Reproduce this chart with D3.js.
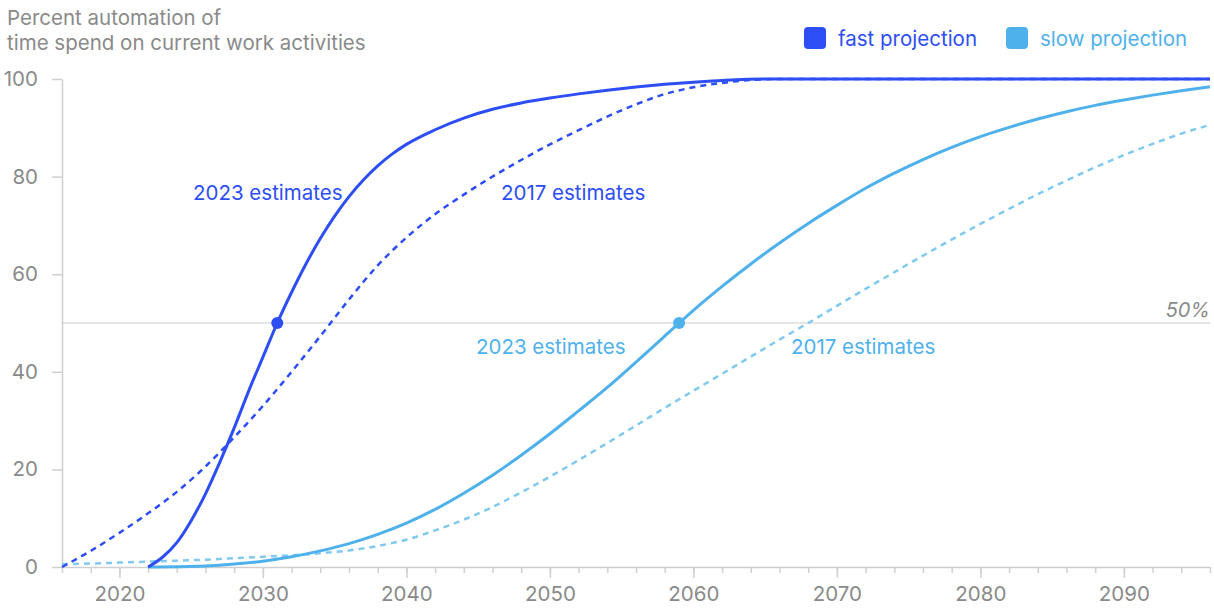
<!DOCTYPE html>
<html>
<head>
<meta charset="utf-8">
<script src="https://cdn.jsdelivr.net/npm/d3@7"></script>
<style>
  body { margin: 0; background: #fff; }
  svg text { font-family: Inter, "Noto Sans", sans-serif; }
</style>
</head>
<body>
<svg id="chart" width="1214" height="608"></svg>
<script>
// --- Data ---
const fast2023Years  = [2022, 2023, 2024, 2025, 2026, 2027, 2028, 2029, 2030, 2031, 2032, 2033, 2034, 2035, 2036, 2037, 2038, 2039, 2040, 2042, 2044, 2046, 2048, 2050, 2052, 2054, 2056, 2058, 2060, 2062, 2065, 2096];
const fast2023Values = [0, 2, 5, 9.5, 15, 21.5, 28.5, 36, 43, 50, 56.3, 62.1, 67.3, 71.9, 75.9, 79.3, 82.2, 84.6, 86.6, 89.6, 92, 93.8, 95.1, 96.1, 96.95, 97.7, 98.35, 98.9, 99.35, 99.7, 100, 100];

const fast2017Years  = [2016, 2018, 2020, 2022, 2024, 2026, 2028, 2030, 2032, 2034, 2036, 2038, 2040, 2042, 2044, 2046, 2048, 2050, 2052, 2054, 2056, 2058, 2060, 2062, 2064, 2066, 2096];
const fast2017Values = [0, 3.3, 7, 11, 15.4, 20.6, 26.6, 33, 40, 47.3, 54.8, 61.8, 67.5, 72.3, 76.3, 80, 83.4, 86.6, 89.5, 92.3, 94.8, 96.9, 98.3, 99.2, 99.8, 100, 100];

const slow2023Years  = [2022, 2024, 2026, 2028, 2030, 2032, 2034, 2036, 2038, 2040, 2042, 2044, 2046, 2048, 2050, 2052, 2054, 2056, 2058, 2060, 2062, 2064, 2066, 2068, 2070, 2072, 2074, 2076, 2078, 2080, 2082, 2084, 2086, 2088, 2090, 2092, 2094, 2096];
const slow2023Values = [0, 0.05, 0.2, 0.6, 1.2, 2.1, 3.3, 4.8, 6.7, 9, 11.8, 15.1, 18.8, 22.9, 27.3, 32, 36.8, 42, 47.3, 52.6, 57.5, 62.1, 66.4, 70.4, 74.1, 77.6, 80.7, 83.5, 86, 88.2, 90.1, 91.8, 93.3, 94.6, 95.7, 96.7, 97.6, 98.4];

const slow2017Years  = [2016, 2018, 2020, 2022, 2024, 2026, 2028, 2030, 2032, 2034, 2036, 2038, 2040, 2042, 2044, 2046, 2048, 2050, 2052, 2054, 2056, 2058, 2060, 2062, 2064, 2066, 2068, 2070, 2072, 2074, 2076, 2078, 2080, 2082, 2084, 2086, 2088, 2090, 2092, 2094, 2096];
const slow2017Values = [0.6, 0.7, 0.9, 1.1, 1.3, 1.5, 1.8, 2.1, 2.4, 2.8, 3.4, 4.3, 5.6, 7.5, 9.7, 12.3, 15.3, 18.5, 21.9, 25.4, 29, 32.6, 36.1, 39.6, 43.1, 46.6, 50, 53.5, 57, 60.4, 63.8, 67.1, 70.3, 73.4, 76.4, 79.2, 81.9, 84.4, 86.7, 88.8, 90.6];

// 50% crossing points marked with dots
const midYears = { fast: 2031, slow: 2059 };

const yTicks = [0, 20, 40, 60, 80, 100];
const xMajorTicks = [2020, 2030, 2040, 2050, 2060, 2070, 2080, 2090];
const titleLines = ["Percent automation of", "time spend on current work activities"];

// --- Setup ---
const svg = d3.select("#chart");
const fastColor = "#2d4ef5",
      slowColor = "#4fb1ec",
      slowDashColor = "#80c9f0",
      gray = "#8a8a8a";

const x = d3.scaleLinear().domain([2016, 2096]).range([62, 1210]);
const y = d3.scaleLinear().domain([0, 100]).range([567, 79]);

// title
svg.append("text")
  .attr("fill", gray)
  .style("font-size", "20.5px")
  .selectAll("tspan")
  .data(titleLines)
  .join("tspan")
  .attr("x", 7)
  .attr("y", (d, i) => 25 + i * 25)
  .text(d => d);

// 50% reference line
svg.append("line")
  .attr("x1", x(2016)).attr("x2", x(2096))
  .attr("y1", y(50)).attr("y2", y(50))
  .attr("stroke", "#dcdcdc")
  .attr("stroke-width", 1.5);

svg.append("text")
  .attr("x", x(2096))
  .attr("y", y(50) - 6)
  .attr("text-anchor", "end")
  .attr("fill", gray)
  .style("font-size", "20px")
  .style("font-style", "italic")
  .text("50%");

// axes
const yAxis = svg.append("g")
  .attr("transform", `translate(${x(2016)},0)`)
  .call(d3.axisLeft(y).tickValues(yTicks).tickSize(10).tickPadding(14).tickSizeOuter(0));

const xMinor = svg.append("g")
  .attr("transform", `translate(0,${y(0)})`)
  .call(d3.axisBottom(x).tickValues(d3.range(2016, 2097, 2)).tickSize(6).tickFormat("").tickSizeOuter(0));

const xMajor = svg.append("g")
  .attr("transform", `translate(0,${y(0)})`)
  .call(d3.axisBottom(x).tickValues(xMajorTicks).tickSize(11).tickPadding(8).tickFormat(d3.format("d")).tickSizeOuter(0));

[yAxis, xMinor, xMajor].forEach(g => {
  g.select(".domain").attr("stroke", "#cfcfcf").attr("stroke-width", 1.5);
  g.selectAll(".tick line").attr("stroke", "#cfcfcf").attr("stroke-width", 1.5);
  g.selectAll("text").attr("fill", gray).style("font-size", "20.5px");
});
xMajor.select(".domain").remove();

// lines
const line = d3.line()
  .x(d => x(d[0]))
  .y(d => y(d[1]))
  .curve(d3.curveMonotoneX);

const series = [
  { years: slow2017Years, values: slow2017Values, color: slowDashColor, dash: "6,5", width: 2.5 },
  { years: slow2023Years, values: slow2023Values, color: slowColor, dash: null, width: 3 },
  { years: fast2017Years, values: fast2017Values, color: fastColor, dash: "6,5", width: 2.5 },
  { years: fast2023Years, values: fast2023Values, color: fastColor, dash: null, width: 3 }
];

svg.append("g")
  .selectAll("path")
  .data(series)
  .join("path")
  .attr("d", s => line(s.years.map((yr, i) => [yr, s.values[i]])))
  .attr("fill", "none")
  .attr("stroke", s => s.color)
  .attr("stroke-width", s => s.width)
  .attr("stroke-dasharray", s => s.dash);

// dots at 50%
svg.append("circle").attr("cx", x(midYears.fast)).attr("cy", y(50)).attr("r", 6).attr("fill", fastColor);
svg.append("circle").attr("cx", x(midYears.slow)).attr("cy", y(50)).attr("r", 6).attr("fill", slowColor);

// annotations
const notes = [
  { text: "2023 estimates", year: 2025.13, val: 75.2, color: fastColor },
  { text: "2017 estimates", year: 2046.59, val: 75.2, color: fastColor },
  { text: "2023 estimates", year: 2044.85, val: 43.6, color: slowColor },
  { text: "2017 estimates", year: 2066.8, val: 43.6, color: slowColor }
];
svg.append("g")
  .selectAll("text")
  .data(notes)
  .join("text")
  .attr("x", d => x(d.year))
  .attr("y", d => y(d.val))
  .attr("fill", d => d.color)
  .style("font-size", "20.5px")
  .text(d => d.text);

// legend
const legend = [
  { label: "fast projection", color: fastColor, x: 804 },
  { label: "slow projection", color: slowColor, x: 1006 }
];
const lg = svg.append("g")
  .selectAll("g")
  .data(legend)
  .join("g")
  .attr("transform", d => `translate(${d.x},27)`);
lg.append("rect")
  .attr("width", 22).attr("height", 22).attr("rx", 4)
  .attr("fill", d => d.color);
lg.append("text")
  .attr("x", 34).attr("y", 19)
  .attr("fill", d => d.color)
  .style("font-size", "20.5px")
  .text(d => d.label);
</script>
</body>
</html>
